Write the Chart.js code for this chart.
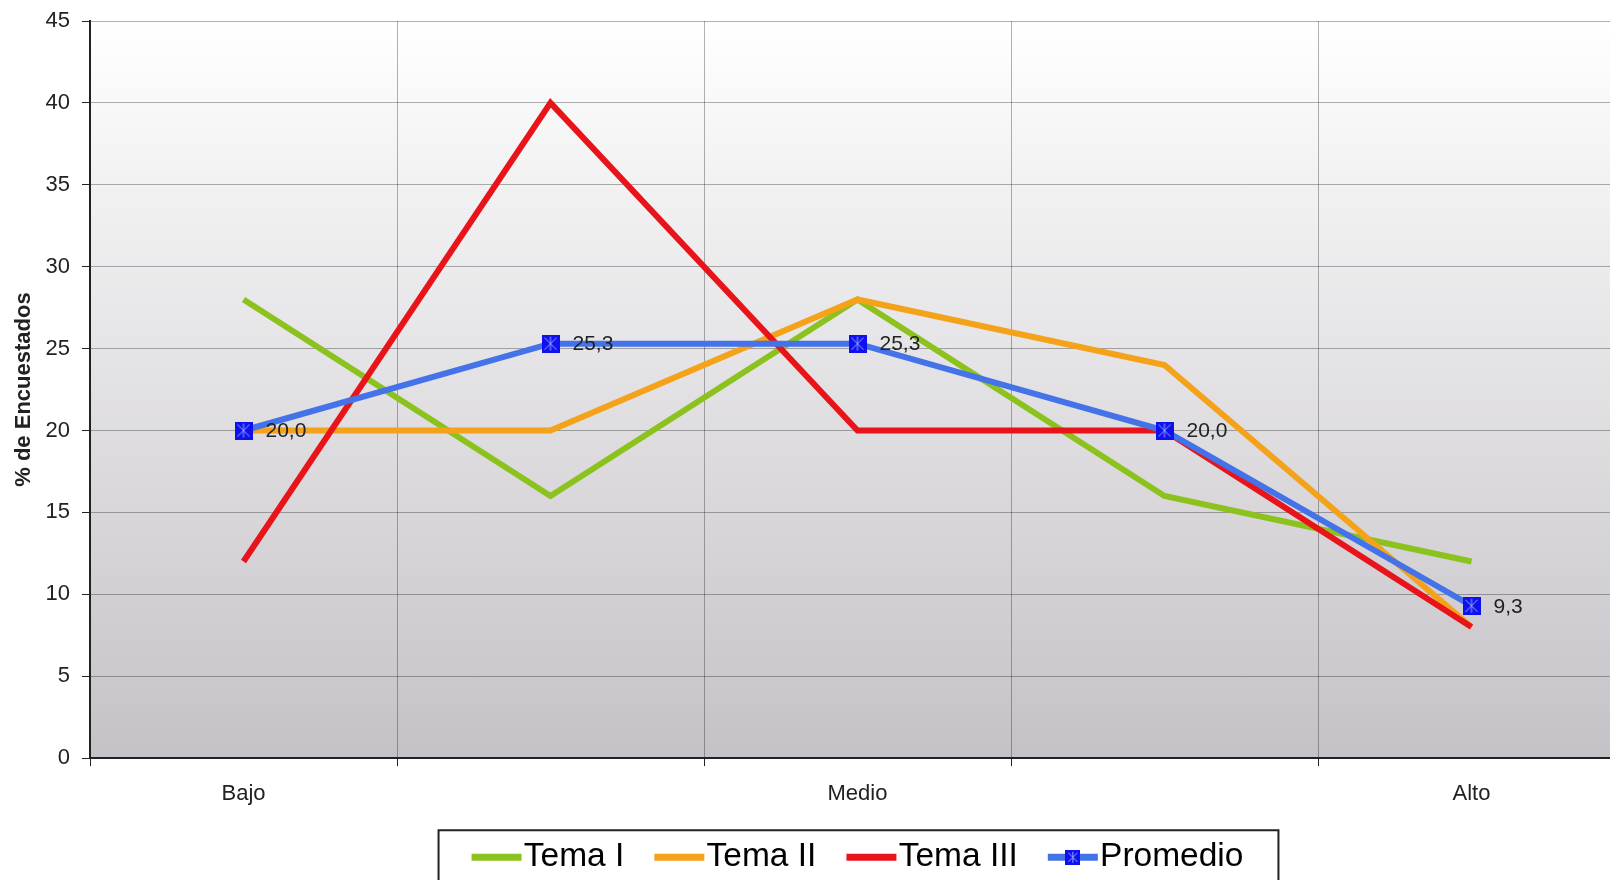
<!DOCTYPE html>
<html><head><meta charset="utf-8">
<script src="https://cdn.jsdelivr.net/npm/chart.js@4.4.1/dist/chart.umd.min.js"></script>
<style>
html,body{margin:0;padding:0;overflow:hidden;background:#fff;width:1610px;height:880px}
#c{position:absolute;left:0;top:0;width:1625px;height:884px}
</style></head>
<body><canvas id="c" width="1625" height="884"></canvas>
<script>
const categories = ['Bajo', '', 'Medio', '', 'Alto'];
const temaI = [28, 16, 28, 16, 12];
const temaII = [20, 20, 28, 24, 8];
const temaIII = [12, 40, 20, 20, 8];
const promedio = [20, 25.3, 25.3, 20, 9.3];
const promedioLabels = ['20,0', '25,3', '25,3', '20,0', '9,3'];
const yMin = 0, yMax = 45, yStep = 5;
const yTitle = '% de Encuestados';

const FONT = "'Liberation Sans', Arial, sans-serif";
const gridColor = 'rgba(0,0,0,0.3)';

function makeMarker(s) {
  const c = document.createElement('canvas');
  c.width = s; c.height = s;
  const g = c.getContext('2d');
  g.fillStyle = '#1010ee';
  g.fillRect(0, 0, s, s);
  g.strokeStyle = '#8aa8ff';
  g.lineWidth = 1;
  g.beginPath();
  g.moveTo(s / 2, 2); g.lineTo(s / 2, s - 2);
  g.moveTo(3, 3); g.lineTo(s - 3, s - 3);
  g.moveTo(s - 3, 3); g.lineTo(3, s - 3);
  g.stroke();
  return c;
}
const marker = makeMarker(18);
const legendMarker = makeMarker(15);

const bgPlugin = {
  id: 'bg',
  beforeDraw(chart) {
    const { ctx, chartArea: a } = chart;
    const gr = ctx.createLinearGradient(0, a.top, 0, a.bottom);
    gr.addColorStop(0, '#ffffff');
    gr.addColorStop(1, '#c5c2c7');
    ctx.save();
    ctx.fillStyle = gr;
    ctx.fillRect(a.left, a.top, a.right - a.left, a.bottom - a.top);
    ctx.restore();
  }
};

const labelPlugin = {
  id: 'vals',
  afterDatasetsDraw(chart) {
    const idx = chart.data.datasets.findIndex(d => d.label === 'Promedio');
    const meta = chart.getDatasetMeta(idx);
    const ctx = chart.ctx;
    ctx.save();
    ctx.font = '21px ' + FONT;
    ctx.fillStyle = '#222';
    ctx.textAlign = 'left';
    ctx.textBaseline = 'middle';
    meta.data.forEach((pt, i) => {
      ctx.fillText(promedioLabels[i], pt.x + 22, pt.y + 1);
    });
    ctx.restore();
  }
};

const legendDeco = {
  id: 'legendDeco',
  afterDraw(chart) {
    const lg = chart.legend;
    const hb = lg && lg.legendHitBoxes;
    if (!hb || !hb.length) return;
    const ctx = chart.ctx;
    const first = hb[0], last = hb[hb.length - 1];
    const cy = first.top + first.height / 2;
    ctx.save();
    ctx.strokeStyle = '#222';
    ctx.lineWidth = 2;
    const x0 = first.left - 33, x1 = last.left + last.width + 35;
    ctx.strokeRect(x0, cy - 27, x1 - x0, 64);
    lg.legendItems.forEach((it, i) => {
      const b = hb[i];
      const ds = chart.data.datasets[it.datasetIndex];
      ctx.fillStyle = ds.borderColor;
      ctx.fillRect(b.left, cy - 3.5, 50, 7);
      if (ds.label === 'Promedio') {
        ctx.drawImage(legendMarker, b.left + 25 - 7.5, cy - 7.5);
      }
    });
    ctx.restore();
  }
};

new Chart(document.getElementById('c'), {
  type: 'line',
  data: {
    labels: categories,
    datasets: [
      { label: 'Tema I', data: temaI, borderColor: '#8cc21e', backgroundColor: '#8cc21e', borderWidth: 6, pointRadius: 0, tension: 0, order: 3 },
      { label: 'Tema II', data: temaII, borderColor: '#f5a21b', backgroundColor: '#f5a21b', borderWidth: 6, pointRadius: 0, tension: 0, order: 2 },
      { label: 'Tema III', data: temaIII, borderColor: '#e8141a', backgroundColor: '#e8141a', borderWidth: 6, pointRadius: 0, tension: 0, order: 1 },
      { label: 'Promedio', data: promedio, borderColor: '#4472e8', backgroundColor: '#4472e8', borderWidth: 6, pointStyle: marker, pointRadius: 9, tension: 0, order: 0 }
    ]
  },
  options: {
    responsive: false,
    maintainAspectRatio: false,
    animation: false,
    devicePixelRatio: 1,
    layout: { autoPadding: false, padding: { top: 21, right: 0, left: 0, bottom: 0 } },
    plugins: {
      tooltip: { enabled: false },
      legend: {
        position: 'bottom',
        fullSize: false,
        labels: {
          font: { size: 33.5, family: FONT },
          color: '#000',
          boxWidth: 35.5,
          boxHeight: 6,
          padding: 30,
          sort: (a, b) => a.datasetIndex - b.datasetIndex,
          generateLabels(chart) {
            const items = Chart.defaults.plugins.legend.labels.generateLabels(chart);
            items.forEach(it => { it.fillStyle = 'rgba(0,0,0,0)'; it.strokeStyle = 'rgba(0,0,0,0)'; it.lineWidth = 0; });
            return items;
          }
        }
      }
    },
    scales: {
      x: {
        type: 'category',
        offset: true,
        grid: { offset: true, color: gridColor, tickLength: 8, tickColor: '#222', drawTicks: true },
        border: { color: '#222', width: 2 },
        ticks: { font: { size: 22, family: FONT }, color: '#222', padding: 15, autoSkip: false, maxRotation: 0 },
        afterFit(s) { s.height = s.height - 12; }
      },
      y: {
        min: yMin, max: yMax,
        ticks: { stepSize: yStep, font: { size: 22, family: FONT }, color: '#222', padding: 12 },
        grid: { color: gridColor, tickLength: 8, tickColor: '#222' },
        border: { color: '#222', width: 2 },
        title: { display: true, text: yTitle, font: { size: 22, weight: 'bold', family: FONT }, color: '#222', padding: { top: 11, bottom: 0 } },
        afterFit(s) { s.width = 90; s.paddingTop = 0; s.paddingBottom = 0; }
      }
    }
  },
  plugins: [bgPlugin, labelPlugin, legendDeco]
});
</script>
</body></html>
